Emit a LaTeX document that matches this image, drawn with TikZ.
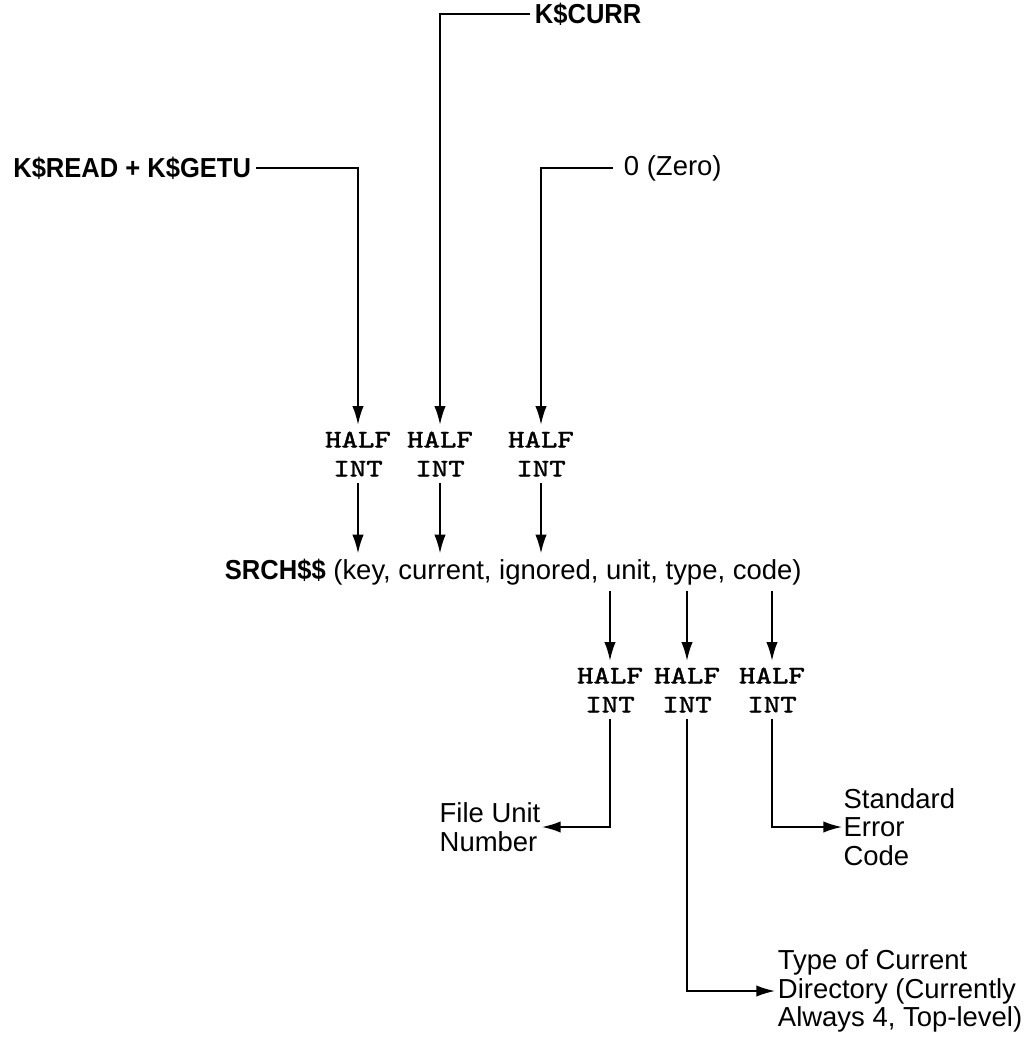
\documentclass[tikz,border=0pt]{standalone}
\usepackage{fontspec}
\setmainfont{Liberation Sans}
\newfontfamily\bsans[FakeStretch=0.93]{Liberation Sans}
\newfontfamily\hfont[FakeStretch=1.25,AutoFakeBold=1.5]{lmmono10-regular.otf}
\usetikzlibrary{arrows.meta}
\begin{document}
\begin{tikzpicture}[x=0.75pt,y=-0.75pt,
  lbl/.style={font=\fontsize{20.6}{21.5}\selectfont, inner xsep=2pt, inner ysep=0pt},
  blbl/.style={lbl, font=\fontsize{20.6}{21.5}\selectfont\bsans\bfseries},
  hi/.style={font=\fontsize{18.8}{21.75}\selectfont\hfont\bfseries, align=center, inner sep=5pt},
  conn/.style={line width=1.3pt},
  arr/.style={conn, -{Latex[length=14pt,width=8.5pt]}}]
\useasboundingbox (0,0) rectangle (1031,1038);
% sources
\node[blbl, anchor=east, inner xsep=3.5pt] (kread) at (256,168) {K\$READ + K\$GETU};
\node[blbl, anchor=west, inner xsep=3.5pt] (kcurr) at (530,14) {K\$CURR};
\node[lbl, anchor=west, inner xsep=8pt] (zero) at (613,168) {0 (Zero)};
% upper HALF INT
\node[hi] (h1) at (358,454) {HALF\\INT};
\node[hi] (h2) at (440,454) {HALF\\INT};
\node[hi] (h3) at (541,454) {HALF\\INT};
% call
\node[lbl, anchor=west, inner ysep=4pt] (srch) at (222,572) {{\bsans\bfseries SRCH\$\$} (key, current, ignored, unit, type, code)};
% lower HALF INT
\node[hi] (h4) at (610,690) {HALF\\INT};
\node[hi] (h5) at (687,690) {HALF\\INT};
\node[hi] (h6) at (772,690) {HALF\\INT};
% results
\node[lbl, anchor=east, align=left, inner xsep=1pt] (fu) at (542,827) {File Unit\\Number};
\node[lbl, anchor=west, align=left, inner xsep=1pt] (se) at (842,827) {Standard\\Error\\Code};
\node[lbl, anchor=west, align=left, inner xsep=2pt] (tc) at (775,991) {Type of Current\\Directory (Currently\\Always 4, Top-level)};
% connectors
\draw[arr] (kread.east) -| (h1.north);
\draw[arr] (kcurr.west) -| (h2.north);
\draw[arr] (zero.west) -| (h3.north);
\draw[arr] (h1.south) -- (h1.south |- srch.north);
\draw[arr] (h2.south) -- (h2.south |- srch.north);
\draw[arr] (h3.south) -- (h3.south |- srch.north);
\draw[arr] (srch.south -| h4) -- (h4.north);
\draw[arr] (srch.south -| h5) -- (h5.north);
\draw[arr] (srch.south -| h6) -- (h6.north);
\draw[arr] (h4.south) |- (fu.east);
\draw[arr] (h6.south) |- (se.west);
\draw[arr] (h5.south) |- (tc.west);
\end{tikzpicture}
\end{document}
